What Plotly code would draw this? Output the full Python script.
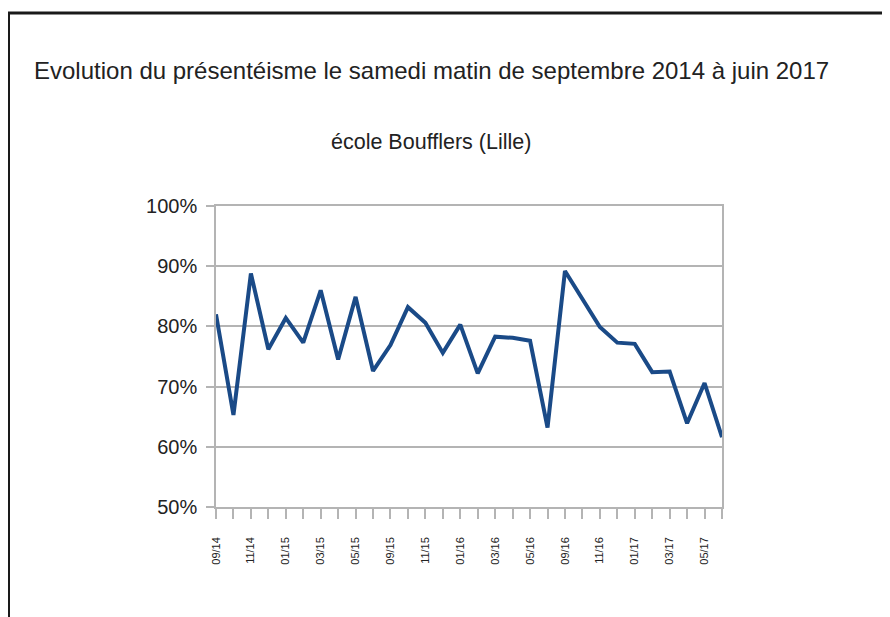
import plotly.graph_objects as go

months = ["09/14", "10/14", "11/14", "12/14", "01/15", "02/15", "03/15", "04/15", "05/15", "06/15",
          "09/15", "10/15", "11/15", "12/15", "01/16", "02/16", "03/16", "04/16", "05/16", "06/16",
          "09/16", "10/16", "11/16", "12/16", "01/17", "02/17", "03/17", "04/17", "05/17", "06/17"]
presence = [82.0, 65.3, 88.8, 76.2, 81.4, 77.3, 86.0, 74.5, 84.9, 72.6,
            76.9, 83.2, 80.6, 75.6, 80.3, 72.2, 78.3, 78.1, 77.6, 63.2,
            89.2, 84.6, 79.9, 77.3, 77.1, 72.4, 72.5, 63.9, 70.6, 61.6]
tick_labels = [m if i % 2 == 0 else "" for i, m in enumerate(months)]
y_ticks = [50, 60, 70, 80, 90, 100]
y_labels = ["50%", "60%", "70%", "80%", "90%", "100%"]

title = "Evolution du présentéisme le samedi matin de septembre 2014 à juin 2017"
subtitle = "école Boufflers (Lille)"

# page offset of 8px (browser body margin) is compensated here
OFF = 8
W, H = 890 - OFF, 617 - OFF
L, T = 216 - OFF, 206 - OFF
PW, PH = 722 - 216, 507 - 206
R, B = W - L - PW, H - T - PH


def px(x):
    return (x - OFF - L) / PW


def py(y):
    return (T + PH - (y - OFF)) / PH


FONT = "Liberation Sans, Arial, sans-serif"
GRAY = "#b4b4b4"
TXT = "#222222"

fig = go.Figure()
fig.add_trace(go.Scatter(
    x=list(range(len(months))), y=presence, mode="lines",
    line=dict(color="#1a4a87", width=4), hoverinfo="y",
))

fig.update_layout(
    width=W, height=H,
    margin=dict(l=L, r=R, t=T, b=B, pad=0),
    paper_bgcolor="white", plot_bgcolor="white",
    showlegend=False,
    font=dict(family=FONT, color=TXT),
    xaxis=dict(
        range=[0, len(months) - 1],
        tickmode="array", tickvals=list(range(len(months))), ticktext=tick_labels,
        tickangle=-90, ticks="outside", ticklen=10, tickcolor=GRAY, tickwidth=1.5,
        ticklabelstandoff=14,
        tickfont=dict(size=11, family=FONT, color=TXT),
        showgrid=False, zeroline=False,
        showline=True, linecolor=GRAY, linewidth=1.5, mirror=True,
    ),
    yaxis=dict(
        range=[50, 100],
        tickmode="array", tickvals=y_ticks, ticktext=y_labels,
        ticks="outside", ticklen=8, tickcolor=GRAY, tickwidth=1.5,
        ticklabelstandoff=5,
        tickfont=dict(size=20, family=FONT, color=TXT),
        showgrid=True, gridcolor=GRAY, gridwidth=1.5, zeroline=False,
        showline=True, linecolor=GRAY, linewidth=1.5, mirror=True,
    ),
    annotations=[
        dict(text=title, xref="paper", yref="paper", x=px(431), y=py(70.5),
             xanchor="center", yanchor="middle", showarrow=False,
             font=dict(size=24, family=FONT, color=TXT)),
        dict(text=subtitle, xref="paper", yref="paper", x=px(431), y=py(142),
             xanchor="center", yanchor="middle", showarrow=False,
             font=dict(size=21.5, family=FONT, color=TXT)),
    ],
    shapes=[
        dict(type="line", xref="paper", yref="paper", x0=px(7), x1=px(892), y0=py(13), y1=py(13),
             line=dict(color="#1a1a1a", width=3)),
        dict(type="line", xref="paper", yref="paper", x0=px(8.5), x1=px(8.5), y0=py(12), y1=py(620),
             line=dict(color="#1a1a1a", width=3)),
    ],
)

fig.write_html("out.html")
